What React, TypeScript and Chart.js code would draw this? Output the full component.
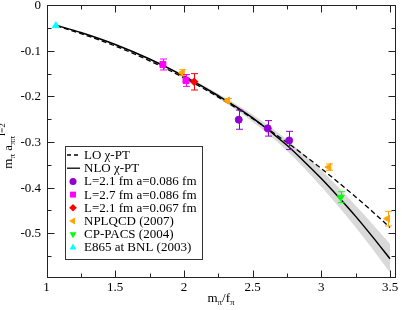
import React, { useEffect, useRef } from 'react';
import { Chart, registerables } from 'chart.js';

Chart.register(...registerables);

const FONT = "'Liberation Serif', 'Times New Roman', serif";

// Curves
const curveX = [1.07, 1.25, 1.5, 1.75, 2.0, 2.25, 2.5, 2.75, 2.875, 3.0, 3.125, 3.25, 3.375, 3.5];
const loY = [-0.0456, -0.0622, -0.0895, -0.1219, -0.1592, -0.2015, -0.2487, -0.3009, -0.3289, -0.3581, -0.3886, -0.4203, -0.4532, -0.4874];
const nloY = [-0.044, -0.06, -0.0862, -0.118, -0.1555, -0.1985, -0.247, -0.307, -0.3425, -0.38, -0.4205, -0.463, -0.5085, -0.556];

// Error band around NLO
const bandX = [1.07, 1.5, 2.0, 2.25, 2.5, 2.75, 3.0, 3.25, 3.5];
const bandUpper = [-0.044, -0.085, -0.1525, -0.194, -0.2395, -0.295, -0.362, -0.439, -0.523];
const bandLower = [-0.044, -0.087, -0.1585, -0.204, -0.2555, -0.319, -0.398, -0.487, -0.586];

// Data points
const l21a086X = [2.399, 2.61, 2.766];
const l21a086Y = [-0.251, -0.27, -0.2965];
const l21a086Err = [0.021, 0.017, 0.02];

const l27a086X = [1.847, 2.015];
const l27a086Y = [-0.13, -0.165];
const l27a086Err = [0.012, 0.013];

const l21a067X = [2.075];
const l21a067Y = [-0.168];
const l21a067Err = [0.018];

const npX = [1.988, 2.318, 3.055, 3.482];
const npY = [-0.148, -0.209, -0.355, -0.468];
const npErr = [0.0066, 0.0044, 0.007, 0.016];

const cpX = [3.141];
const cpY = [-0.421];
const cpErr = [0.012];

const e865X = [1.068];
const e865Y = [-0.045];

const xTicks = [1, 1.5, 2, 2.5, 3, 3.5];
const yTicks = [0, -0.1, -0.2, -0.3, -0.4, -0.5];
const xTickLabels = ['1', '1.5', '2', '2.5', '3', '3.5'];
const yTickLabels = ['0', '-0.1', '-0.2', '-0.3', '-0.4', '-0.5'];
const xMinorTicks = [1.25, 1.75, 2.25, 2.75, 3.25];
const yMinorTicks = [-0.05, -0.15, -0.25, -0.35, -0.45, -0.55];

const legendLabels = [
  'LO \u03c7-PT',
  'NLO \u03c7-PT',
  'L=2.1 fm a=0.086 fm',
  'L=2.7 fm a=0.086 fm',
  'L=2.1 fm a=0.067 fm',
  'NPLQCD (2007)',
  'CP-PACS (2004)',
  'E865 at BNL (2003)',
];

const PURPLE = '#9400d3';
const MAGENTA = '#ff00ff';
const RED = '#ff0000';
const ORANGE = '#ffa500';
const GREEN = '#00ff00';
const CYAN = '#00ffff';

const pts = (xs: number[], ys: number[]) => xs.map((x, i) => ({ x, y: ys[i] }));

type Part = { t: string; size: number; dy: number };

function drawRich(ctx: CanvasRenderingContext2D, parts: Part[], cx: number, baseline: number) {
  let total = 0;
  const widths = parts.map((p) => {
    ctx.font = `${p.size}px ${FONT}`;
    const w = ctx.measureText(p.t).width;
    total += w;
    return w;
  });
  let x = cx - total / 2;
  ctx.textAlign = 'left';
  ctx.textBaseline = 'alphabetic';
  parts.forEach((p, i) => {
    ctx.font = `${p.size}px ${FONT}`;
    ctx.fillText(p.t, x, baseline + p.dy);
    x += widths[i];
  });
}

function drawMarker(ctx: CanvasRenderingContext2D, style: string, x: number, y: number, r: number, rotDeg: number, color: string) {
  ctx.save();
  ctx.fillStyle = color;
  ctx.translate(x, y);
  ctx.rotate((rotDeg * Math.PI) / 180);
  ctx.beginPath();
  if (style === 'circle') {
    ctx.arc(0, 0, r, 0, Math.PI * 2);
  } else if (style === 'rect') {
    const s = r * Math.SQRT1_2;
    ctx.rect(-s, -s, 2 * s, 2 * s);
  } else if (style === 'rectRot') {
    ctx.moveTo(0, -r);
    ctx.lineTo(r, 0);
    ctx.lineTo(0, r);
    ctx.lineTo(-r, 0);
    ctx.closePath();
  } else {
    ctx.moveTo(0, -r);
    ctx.lineTo(r * Math.sin(Math.PI / 3), r * 0.5);
    ctx.lineTo(-r * Math.sin(Math.PI / 3), r * 0.5);
    ctx.closePath();
  }
  ctx.fill();
  ctx.restore();
}

export default function App() {
  const ref = useRef<HTMLCanvasElement | null>(null);

  useEffect(() => {
    if (!ref.current) return;

    const errorSets: { xs: number[]; ys: number[]; es: number[]; color: string }[] = [
      { xs: l21a086X, ys: l21a086Y, es: l21a086Err, color: PURPLE },
      { xs: l27a086X, ys: l27a086Y, es: l27a086Err, color: MAGENTA },
      { xs: l21a067X, ys: l21a067Y, es: l21a067Err, color: RED },
      { xs: npX, ys: npY, es: npErr, color: ORANGE },
      { xs: cpX, ys: cpY, es: cpErr, color: GREEN },
    ];

    const errorBarPlugin = {
      id: 'errorBars',
      afterDatasetsDraw(chart: any) {
        const ctx = chart.ctx;
        const xs = chart.scales.x;
        const ys = chart.scales.y;
        ctx.save();
        ctx.lineWidth = 1;
        errorSets.forEach((s) => {
          ctx.strokeStyle = s.color;
          s.xs.forEach((xv, i) => {
            const px = Math.round(xs.getPixelForValue(xv)) + 0.5;
            const y1 = ys.getPixelForValue(s.ys[i] + s.es[i]);
            const y2 = ys.getPixelForValue(s.ys[i] - s.es[i]);
            ctx.beginPath();
            ctx.moveTo(px, y1);
            ctx.lineTo(px, y2);
            ctx.moveTo(px - 3.5, y1);
            ctx.lineTo(px + 3.5, y1);
            ctx.moveTo(px - 3.5, y2);
            ctx.lineTo(px + 3.5, y2);
            ctx.stroke();
          });
        });
        ctx.restore();
      },
    };

    const framePlugin = {
      id: 'frame',
      afterDraw(chart: any) {
        const ctx = chart.ctx;
        const { left, right, top, bottom } = chart.chartArea;
        const xs = chart.scales.x;
        const ys = chart.scales.y;
        ctx.save();
        ctx.strokeStyle = '#222';
        ctx.lineWidth = 1;
        const L = Math.round(left) + 0.5;
        const R = Math.round(right) - 0.5;
        const T = Math.round(top) + 0.5;
        const B = Math.round(bottom) - 0.5;
        ctx.strokeRect(L, T, R - L, B - T);
        const tick = (vals: number[], len: number) => {
          vals.forEach((v) => {
            const px = Math.round(xs.getPixelForValue(v)) + 0.5;
            ctx.beginPath();
            ctx.moveTo(px, B);
            ctx.lineTo(px, B - len);
            ctx.moveTo(px, T);
            ctx.lineTo(px, T + len);
            ctx.stroke();
          });
        };
        const tickY = (vals: number[], len: number) => {
          vals.forEach((v) => {
            const py = Math.round(ys.getPixelForValue(v)) + 0.5;
            ctx.beginPath();
            ctx.moveTo(L, py);
            ctx.lineTo(L + len, py);
            ctx.moveTo(R, py);
            ctx.lineTo(R - len, py);
            ctx.stroke();
          });
        };
        tick(xTicks, 7);
        tick(xMinorTicks, 4);
        tickY(yTicks, 7);
        tickY(yMinorTicks, 4);

        // Tick labels
        ctx.fillStyle = '#000';
        ctx.font = `13px ${FONT}`;
        ctx.textAlign = 'center';
        ctx.textBaseline = 'top';
        xTicks.forEach((v, i) => {
          ctx.fillText(xTickLabels[i], xs.getPixelForValue(v), 281);
        });
        ctx.textAlign = 'right';
        ctx.textBaseline = 'middle';
        yTicks.forEach((v, i) => {
          ctx.fillText(yTickLabels[i], 41, ys.getPixelForValue(v) + 0.5);
        });

        // Legend
        const bx = 65.5, by = 146.5, bw = 137, bh = 113;
        ctx.fillStyle = '#fff';
        ctx.fillRect(bx, by, bw, bh);
        ctx.strokeStyle = '#333';
        ctx.strokeRect(bx, by, bw, bh);
        const sx = 73;
        const tx = 84;
        const conf = [
          { style: 'circle', color: PURPLE, r: 3.5, rot: 0 },
          { style: 'rect', color: MAGENTA, r: 4.2, rot: 0 },
          { style: 'rectRot', color: RED, r: 3.8, rot: 0 },
          { style: 'triangle', color: ORANGE, r: 4, rot: 270 },
          { style: 'triangle', color: GREEN, r: 4, rot: 180 },
          { style: 'triangle', color: CYAN, r: 4, rot: 0 },
        ];
        legendLabels.forEach((lab, i) => {
          const cy = 155 + i * 13.2;
          if (i === 0 || i === 1) {
            ctx.save();
            ctx.strokeStyle = '#000';
            ctx.lineWidth = 1.3;
            ctx.setLineDash(i === 0 ? [4, 3] : []);
            ctx.beginPath();
            ctx.moveTo(67, cy);
            ctx.lineTo(80, cy);
            ctx.stroke();
            ctx.restore();
          } else {
            const c = conf[i - 2];
            drawMarker(ctx, c.style, sx, cy, c.r, c.rot, c.color);
          }
          ctx.fillStyle = '#000';
          ctx.font = `13px ${FONT}`;
          ctx.textAlign = 'left';
          ctx.textBaseline = 'middle';
          ctx.fillText(lab, tx, cy + 0.5);
        });

        // Axis titles
        ctx.fillStyle = '#000';
        drawRich(
          ctx,
          [
            { t: 'm', size: 13, dy: 0 },
            { t: '\u03c0', size: 9, dy: 3 },
            { t: '/f', size: 13, dy: 0 },
            { t: '\u03c0', size: 9, dy: 3 },
          ],
          221,
          302
        );
        ctx.save();
        ctx.translate(12, 146);
        ctx.rotate(-Math.PI / 2);
        drawRich(
          ctx,
          [
            { t: 'm', size: 13, dy: 0 },
            { t: '\u03c0', size: 9, dy: 3 },
            { t: ' a', size: 13, dy: 0 },
            { t: '\u03c0\u03c0', size: 9, dy: 3 },
            { t: 'I=2', size: 9, dy: -7 },
          ],
          0,
          0
        );
        ctx.restore();
        ctx.restore();
      },
    };

    const chart = new Chart(ref.current, {
      type: 'scatter',
      data: {
        datasets: [
          {
            label: legendLabels[2],
            data: pts(l21a086X, l21a086Y),
            backgroundColor: PURPLE,
            borderColor: PURPLE,
            pointStyle: 'circle',
            pointRadius: 3.5,
            order: 1,
          },
          {
            label: legendLabels[3],
            data: pts(l27a086X, l27a086Y),
            backgroundColor: MAGENTA,
            borderColor: MAGENTA,
            pointStyle: 'rect',
            pointRadius: 4.2,
            order: 1,
          },
          {
            label: legendLabels[4],
            data: pts(l21a067X, l21a067Y),
            backgroundColor: RED,
            borderColor: RED,
            pointStyle: 'rectRot',
            pointRadius: 3.8,
            order: 1,
          },
          {
            label: legendLabels[5],
            data: pts(npX, npY),
            backgroundColor: ORANGE,
            borderColor: ORANGE,
            pointStyle: 'triangle',
            rotation: 270,
            pointRadius: 4,
            order: 1,
          },
          {
            label: legendLabels[6],
            data: pts(cpX, cpY),
            backgroundColor: GREEN,
            borderColor: GREEN,
            pointStyle: 'triangle',
            rotation: 180,
            pointRadius: 4,
            order: 1,
          },
          {
            label: legendLabels[7],
            data: pts(e865X, e865Y),
            backgroundColor: CYAN,
            borderColor: CYAN,
            pointStyle: 'triangle',
            pointRadius: 4,
            order: 1,
          },
          {
            label: legendLabels[0],
            data: pts(curveX, loY),
            showLine: true,
            borderColor: '#000',
            borderWidth: 1.3,
            borderDash: [5, 3],
            pointRadius: 0,
            cubicInterpolationMode: 'monotone',
            order: 2,
          },
          {
            label: legendLabels[1],
            data: pts(curveX, nloY),
            showLine: true,
            borderColor: '#000',
            borderWidth: 1.5,
            pointRadius: 0,
            cubicInterpolationMode: 'monotone',
            order: 2,
          },
          {
            label: 'band-low',
            data: pts(bandX, bandLower),
            showLine: true,
            borderWidth: 0,
            borderColor: 'rgba(0,0,0,0)',
            pointRadius: 0,
            cubicInterpolationMode: 'monotone',
            order: 5,
          },
          {
            label: 'band-high',
            data: pts(bandX, bandUpper),
            showLine: true,
            borderWidth: 0,
            borderColor: 'rgba(0,0,0,0)',
            backgroundColor: '#d9d9d9',
            fill: '-1',
            pointRadius: 0,
            cubicInterpolationMode: 'monotone',
            order: 4,
          },
        ] as any,
      },
      options: {
        animation: false,
        responsive: false,
        maintainAspectRatio: false,
        events: [],
        layout: { padding: { top: 4.5, right: 6.5, left: 0, bottom: 0 } },
        plugins: {
          legend: { display: false },
          tooltip: { enabled: false },
          filler: { propagate: false },
        },
        scales: {
          x: {
            type: 'linear',
            min: 1,
            max: 3.54,
            grid: { display: false, drawTicks: false },
            border: { display: false },
            afterBuildTicks: (s: any) => {
              s.ticks = xTicks.map((v) => ({ value: v }));
            },
            afterFit: (s: any) => {
              s.height = 32.5;
            },
            ticks: { display: false },
          },
          y: {
            type: 'linear',
            min: -0.597,
            max: 0,
            grid: { display: false, drawTicks: false },
            border: { display: false },
            afterBuildTicks: (s: any) => {
              s.ticks = yTicks.map((v) => ({ value: v }));
            },
            afterFit: (s: any) => {
              s.width = 46.5;
            },
            ticks: { display: false },
          },
        },
      } as any,
      plugins: [errorBarPlugin, framePlugin],
    });

    return () => chart.destroy();
  }, []);

  return (
    <div style={{ position: 'absolute', left: 0, top: 0, width: 402, height: 310, background: '#fff' }}>
      <canvas ref={ref} width={402} height={310} style={{ display: 'block', width: 402, height: 310 }} />
    </div>
  );
}
